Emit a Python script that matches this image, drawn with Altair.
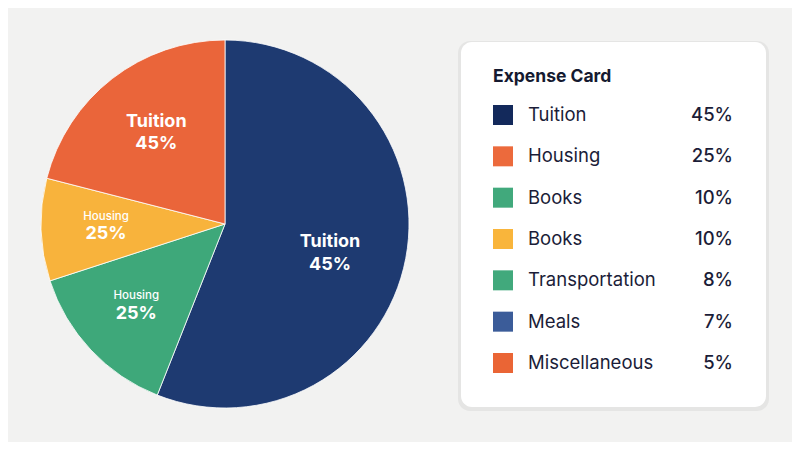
import altair as alt
import pandas as pd

# Pie slices, clockwise from 12 o'clock
pie_order = [0, 1, 2, 3]
pie_values = [56, 14, 9, 21]
pie_names = ["Tuition", "Housing", "Housing", "Tuition"]
pie_pcts = ["45%", "25%", "25%", "45%"]
pie_colors = ["#1e3a71", "#3ea87a", "#f8b33c", "#ea653a"]

# Legend card entries
legend_title = "Expense Card"
legend_names = ["Tuition", "Housing", "Books", "Books", "Transportation", "Meals", "Miscellaneous"]
legend_pcts = ["45%", "25%", "10%", "10%", "8%", "7%", "5%"]
legend_colors = ["#13295b", "#ec6a3c", "#41a97c", "#f9b53b", "#41a97c", "#3b5c99", "#ea6535"]

pie_df = pd.DataFrame({"ord": pie_order, "value": pie_values, "name": pie_names,
                       "pct": pie_pcts, "color": pie_colors})
leg_df = pd.DataFrame({"idx": list(range(len(legend_names))), "name": legend_names,
                       "pct": legend_pcts, "color": legend_colors})
title_df = pd.DataFrame({"title": [legend_title]})

FONT = "Inter"
CX, CY, R = 217, 216, 184

base = alt.Chart(pie_df).encode(
    theta=alt.Theta("value:Q", stack=True),
    order=alt.Order("ord:Q"),
)

pie = base.mark_arc(outerRadius=R, stroke="#ffffff", strokeWidth=0.8).encode(
    color=alt.Color("color:N", scale=None),
    x=alt.value(CX), y=alt.value(CY),
)


def slice_labels(k, radius, name_size, name_weight, name_dy, pct_dy, dx=0):
    test = f"datum.ord == {k}"
    name = base.mark_text(font=FONT, fontSize=name_size, fontWeight=name_weight, color="white",
                          dy=name_dy, dx=dx).encode(
        text=alt.condition(test, "name:N", alt.value("")),
        radius=alt.value(radius), x=alt.value(CX), y=alt.value(CY),
    )
    pct = base.mark_text(font=FONT, fontSize=18, fontWeight="bold", color="white",
                         dy=pct_dy, dx=dx).encode(
        text=alt.condition(test, "pct:N", alt.value("")),
        radius=alt.value(radius), x=alt.value(CX), y=alt.value(CY),
    )
    return [name, pct]


labels = (
    slice_labels(0, 112, 18, "bold", -3, 20, dx=-5)
    + slice_labels(1, 119, 11.5, 500, -9, 9, dx=-2)
    + slice_labels(2, 119, 11.5, 500, -11, 6)
    + slice_labels(3, 112, 18, "bold", -14, 8)
)

# Card background with soft shadow
shadow = alt.Chart(title_df).mark_rect(cornerRadius=12, fill="#000000", opacity=0.05).encode(
    x=alt.value(450), x2=alt.value(761), y=alt.value(33), y2=alt.value(403)
)
card = alt.Chart(title_df).mark_rect(cornerRadius=11, fill="#ffffff").encode(
    x=alt.value(453), x2=alt.value(758), y=alt.value(34), y2=alt.value(399)
)
title = alt.Chart(title_df).mark_text(font=FONT, fontSize=17.5, fontWeight="bold", color="#151a30",
                                      align="left", baseline="middle").encode(
    text="title:N", x=alt.value(485), y=alt.value(69)
)

yenc = alt.Y("idx:Q", scale=alt.Scale(domain=[0, 6], range=[107, 355]), axis=None)
leg_base = alt.Chart(leg_df).encode(y=yenc)
swatch = leg_base.mark_square(size=400, opacity=1).encode(
    x=alt.value(495), color=alt.Color("color:N", scale=None)
)
leg_name = leg_base.mark_text(font=FONT, fontSize=18.5, color="#1b1d38", align="left",
                              baseline="middle").encode(text="name:N", x=alt.value(520))
leg_pct = leg_base.mark_text(font=FONT, fontSize=18.5, fontWeight=500, color="#1b1d38", align="right",
                             baseline="middle").encode(text="pct:N", x=alt.value(725))

chart = alt.layer(
    pie, *labels, shadow, card, title, swatch, leg_name, leg_pct
).properties(
    width=784, height=434, autosize="none", padding=0, background="#f2f2f1"
).configure_view(stroke=None)

chart.save("out.html", embed_options={"renderer": "svg", "actions": False})
